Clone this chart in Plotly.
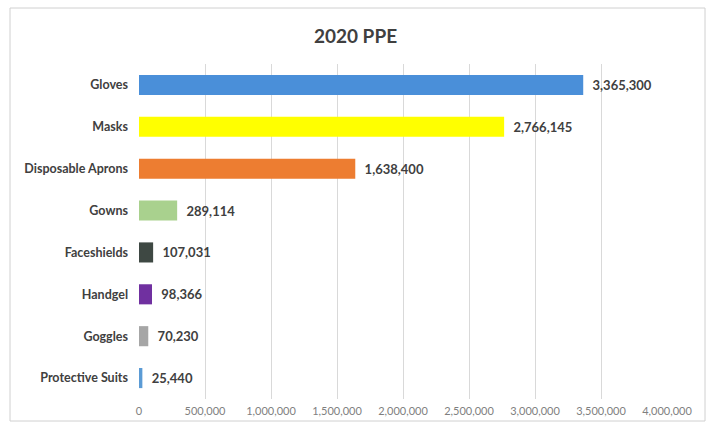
import plotly.graph_objects as go

categories = ["Gloves", "Masks", "Disposable Aprons", "Gowns", "Faceshields",
              "Handgel", "Goggles", "Protective Suits"]
values = [3365300, 2766145, 1638400, 289114, 107031, 98366, 70230, 25440]
colors = ["#4A8FD9", "#FFFF00", "#ED7D31", "#A9D18E", "#3E4843",
          "#7030A0", "#A6A6A6", "#5B9BD5"]
tick_vals = [0, 500000, 1000000, 1500000, 2000000, 2500000, 3000000, 3500000, 4000000]
tick_text = ["0", "500,000", "1,000,000", "1,500,000", "2,000,000", "2,500,000",
             "3,000,000", "3,500,000", "4,000,000"]

W, H = 711, 425
L, R, T, B = 139, 44, 64, 26
pw, ph = W - L - R, H - T - B

fig = go.Figure(go.Bar(
    y=categories, x=values, orientation="h",
    marker=dict(color=colors, line=dict(width=0)),
    text=[f"  {v:,}" for v in values], textposition="outside",
    textfont=dict(family="Lato, sans-serif", size=13, color="#404040", weight="bold"),
    cliponaxis=False,
))

def px(x):
    return (x - L) / pw

def py(y):
    return (H - B - y) / ph

fig.update_layout(
    width=W, height=H,
    margin=dict(l=L, r=R, t=T, b=B, autoexpand=False),
    paper_bgcolor="white", plot_bgcolor="white",
    bargap=0.52,
    showlegend=False,
    title=dict(text="<b>2020 PPE</b>", x=0.5, xref="container", xanchor="center",
               y=1 - 36 / H, yanchor="middle",
               font=dict(family="Lato, sans-serif", size=19, color="#404040")),
    xaxis=dict(range=[0, 4000000], tickvals=tick_vals, ticktext=tick_text,
               showgrid=True, gridcolor="#D9D9D9", gridwidth=1, zeroline=False,
               showline=False, ticklabelstandoff=4, automargin=False,
               tickfont=dict(family="Lato, sans-serif", size=11, color="#7F7F7F")),
    yaxis=dict(autorange="reversed", showgrid=False, zeroline=False,
               ticklabelstandoff=10, automargin=False,
               tickfont=dict(family="Lato, sans-serif", size=12.5, color="#404040", weight="bold")),
    shapes=[dict(type="rect", xref="paper", yref="paper",
                 x0=px(10), x1=px(705), y0=py(421), y1=py(8),
                 line=dict(color="#D0D0D0", width=1), fillcolor="rgba(0,0,0,0)",
                 layer="below")],
)

fig.write_html("out.html")
